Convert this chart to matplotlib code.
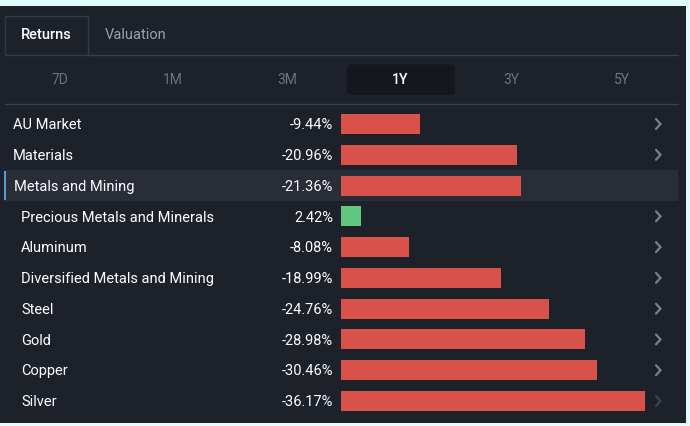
import matplotlib
matplotlib.use("Agg")
import matplotlib.pyplot as plt
from matplotlib.patches import Rectangle, FancyBboxPatch
from matplotlib.transforms import blended_transform_factory

# ---- data ----
categories = ["AU Market", "Materials", "Metals and Mining",
              "Precious Metals and Minerals", "Aluminum",
              "Diversified Metals and Mining", "Steel", "Gold",
              "Copper", "Silver"]
returns = [-9.44, -20.96, -21.36, 2.42, -8.08, -18.99, -24.76, -28.98, -30.46, -36.17]
indent_level = [0, 0, 0, 1, 1, 1, 1, 1, 1, 1]
period_labels = ["7D", "1M", "3M", "1Y", "3Y", "5Y"]
selected_period = "1Y"
tab_labels = ["Returns", "Valuation"]
highlight_row = "Metals and Mining"

# ---- style ----
BG_OUT = "#dffbfa"
PANEL = "#1c212a"
HILITE = "#282d37"
SEL = "#14181e"
LINE = "#3a404a"
RED = "#d9524a"
GREEN = "#5fc77f"
WHITE = "#ffffff"
FONT = ["Roboto", "DejaVu Sans"]

W, H = 690, 426
fig = plt.figure(figsize=(W / 100, H / 100), dpi=100, facecolor=BG_OUT)
ax = fig.add_axes([0, 0, 1, 1])
ax.set_xlim(0, W)
ax.set_ylim(H, 0)
ax.axis("off")

# panel
ax.add_patch(Rectangle((0, 6), 686, 417, facecolor=PANEL, edgecolor="none", zorder=0))

# tabs
ax.add_patch(Rectangle((4.5, 15.5), 83, 39, facecolor=PANEL, edgecolor="#333a44", lw=1, zorder=1))
ax.plot([88, 678], [55, 55], color=LINE, lw=1, zorder=1)
ax.text(46, 35, tab_labels[0], color=WHITE, fontsize=10.5, ha="center", va="center",
        family=FONT, fontweight="medium")
ax.text(136, 35, tab_labels[1], color="#9aa0a8", fontsize=10.5, ha="center", va="center",
        family=FONT)

# periods
period_x = [60, 173, 287, 400, 511, 622]
for lab, px in zip(period_labels, period_x):
    if lab == selected_period:
        ax.add_patch(FancyBboxPatch((347, 64.5), 108, 30.5, boxstyle="round,pad=0,rounding_size=4",
                                    facecolor=SEL, edgecolor="none", zorder=1))
        ax.text(px, 80, lab, color=WHITE, fontsize=10, ha="center", va="center",
                family=FONT, fontweight="medium", zorder=2)
    else:
        ax.text(px, 80, lab, color="#6d737c", fontsize=10, ha="center", va="center",
                family=FONT, zorder=2)
ax.plot([5, 678], [104, 104], color=LINE, lw=1, zorder=1)

# rows area
row_top, row_h = 108.6, 30.78
n = len(categories)
bx0, bx1 = 341, 645
bax = fig.add_axes([bx0 / W, 1 - (row_top + n * row_h) / H, (bx1 - bx0) / W, n * row_h / H])
bax.set_xlim(0, max(abs(v) for v in returns))
bax.set_ylim(n - 0.5, -0.5)
bax.axis("off")
bax.patch.set_alpha(0)

ypos = list(range(n))
colors = [GREEN if v >= 0 else RED for v in returns]
bax.barh(ypos, [abs(v) for v in returns], height=0.65, left=0, color=colors,
         edgecolor="none", zorder=3)

tr = blended_transform_factory(ax.transData, bax.transData)
dy = 1.2 / row_h
for i, (cat, v, lev) in enumerate(zip(categories, returns, indent_level)):
    if cat == highlight_row:
        ax.add_patch(Rectangle((4, row_top + i * row_h), 674, row_h,
                               facecolor=HILITE, edgecolor="none", zorder=0.5))
        ax.add_patch(Rectangle((4, row_top + i * row_h + 1), 2, row_h - 2,
                               facecolor="#4aa0d5", edgecolor="none", zorder=0.6))
    bax.text(13 + 8 * lev if cat != highlight_row else 14, i + dy, cat, transform=tr,
             color=WHITE, fontsize=10.5, ha="left", va="center", family=FONT)
    bax.text(333, i + dy, f"{v:.2f}%", transform=tr, color=WHITE, fontsize=10.5,
             ha="right", va="center", family=FONT)
    if cat != highlight_row:
        ccol = "#3c424b" if i == n - 1 else "#7b8088"
        bax.plot([656, 660.5, 656], [i - 0.16, i, i + 0.16], transform=tr,
                 color=ccol, lw=1.6, solid_capstyle="round", solid_joinstyle="miter",
                 clip_on=False)

fig.savefig("out.png", dpi=100, facecolor=BG_OUT)
